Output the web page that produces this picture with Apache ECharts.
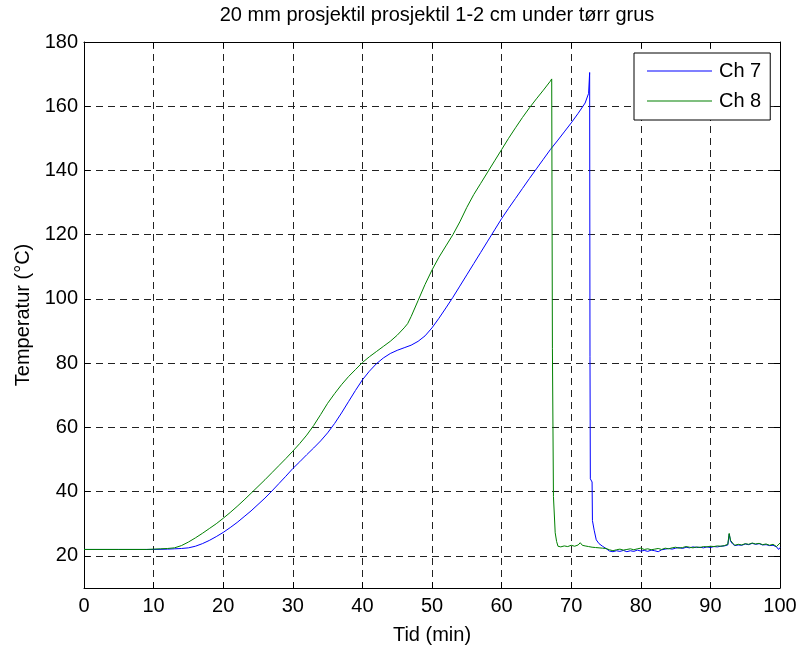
<!DOCTYPE html>
<html>
<head>
<meta charset="utf-8">
<script src="https://cdn.jsdelivr.net/npm/echarts@6/dist/echarts.min.js"></script>
<style>
  html, body { margin: 0; padding: 0; background: #fff; }
  #chart { width: 801px; height: 645px; }
</style>
</head>
<body>
<div id="chart"></div>
<script>
// Temperature logs for the two thermocouple channels (time in minutes, °C)
var ch7Time = [0, 5, 10, 12, 13, 14, 15, 16, 17, 18, 19, 20, 21, 22, 23, 24, 25, 26, 27, 28, 29,
  30, 31, 32, 33, 34, 35, 36, 37, 38, 39, 40, 41, 42, 43, 44, 45, 46, 47, 48, 49,
  50, 51, 52, 53, 54, 55, 56, 57, 58, 59, 60, 61, 62, 63, 64, 65, 66, 67, 68, 69,
  70, 71, 72, 72.5, 72.6, 72.65, 72.7, 72.75, 73.0, 73.05, 73.3, 73.6, 74, 74.5,
  75, 75.5, 76, 76.5, 77, 77.5, 78, 78.5, 79, 79.5, 80, 80.5, 81, 81.5, 82, 82.5,
  83, 83.5, 84, 84.5, 85, 85.5, 86, 86.5, 87, 87.5, 88, 88.5, 89, 89.5, 90, 90.5,
  91, 91.5, 92, 92.5, 92.7, 92.9, 93.2, 93.5, 94, 94.5, 95, 95.5, 96, 96.5, 97,
  97.5, 98, 98.5, 99, 99.5, 99.8, 100];
var ch7Temp = [22, 22, 22, 22.1, 22.2, 22.3, 22.5, 23, 23.8, 24.8, 26, 27.3, 28.8, 30.4, 32.2, 34, 36, 38, 40.2, 42.5, 44.8,
  47.2, 49.3, 51.5, 53.6, 55.8, 58.3, 61.2, 64.5, 68, 71.5, 74.8, 77.5, 79.8, 81.6, 83, 84, 84.8, 85.6, 86.8, 88.5,
  91, 94, 97.2, 100.5, 104, 107.5, 111, 114.5, 118, 121.5, 125, 128.2, 131.3, 134.4, 137.5, 140.5, 143.5, 146.5, 149.2, 152,
  154.8, 157.8, 161, 164, 164.6, 170.5, 82, 44, 43, 31, 28, 25, 23.8, 23,
  22.3, 21.5, 21.3, 21.6, 21.4, 21.7, 21.3, 21.6, 21.4, 21.8, 21.5, 21.7, 21.4, 21.8, 21.6, 21.3,
  21.9, 22.1, 22.3, 22.1, 22.4, 22.6, 22.3, 22.7, 22.5, 22.8, 22.6, 22.7, 22.5, 22.8, 22.6, 22.9,
  22.8, 23.0, 23.1, 23.4, 26.8, 24.5, 23.7, 23.2, 23.4, 23.3, 23.7, 23.5, 23.9, 23.6, 23.8,
  23.4, 23.5, 23.2, 23.3, 22.8, 22.0, 22.6];

var ch8Time = [0, 5, 9, 10, 11, 12, 13, 14, 15, 16, 17, 18, 19, 20, 21, 22, 23, 24, 25, 26, 27, 28, 29,
  30, 31, 32, 33, 34, 35, 36, 37, 38, 39, 40, 41, 42, 43, 44, 45, 46, 46.5, 47, 48, 49,
  50, 51, 52, 53, 54, 55, 56, 57, 58, 59, 60, 61, 62, 63, 64, 65, 66, 67, 67.2,
  67.3, 67.4, 67.45, 67.7, 67.9, 68.1, 68.5, 69, 69.5, 70, 70.5, 71, 71.3, 71.6, 72, 72.5,
  73, 73.5, 74, 74.5, 75, 75.5, 76, 76.5, 77, 77.5, 78, 78.5, 79, 79.5, 80, 80.5, 81, 81.5,
  82, 82.5, 83, 83.5, 84, 84.5, 85, 85.5, 86, 86.5, 87, 87.5, 88, 88.5, 89, 89.5, 90, 90.5,
  91, 91.5, 92, 92.5, 92.7, 92.9, 93.2, 93.5, 94, 94.5, 95, 95.5, 96, 96.5, 97, 97.5, 98,
  98.5, 99, 99.5, 100];
var ch8Temp = [22, 22, 22, 22.1, 22.2, 22.3, 22.5, 23.2, 24.3, 25.6, 27, 28.5, 30, 31.7, 33.5, 35.4, 37.4, 39.5, 41.6, 43.7, 45.9, 48.1, 50.3,
  52.6, 55, 57.6, 60.6, 64, 67.5, 70.5, 73.3, 75.8, 78, 80.2, 82, 83.6, 85.2, 86.8, 88.7, 91, 92.3, 94.5, 99.5, 104.5,
  109, 113, 116.5, 120, 124, 128.5, 132.5, 136, 139.5, 143, 146.5, 150, 153.3, 156.5, 159.5, 162.3, 165, 167.8, 168.5,
  84.5, 84, 38.5, 27.2, 24.5, 23, 22.8, 23.1, 22.9, 23.3, 23.0, 23.4, 24.1, 23.3, 23.1, 22.9,
  22.7, 22.6, 22.5, 22.4, 22.3, 21.9, 21.6, 21.9, 22.1, 21.8, 22.0, 22.2, 21.9, 22.2, 22.4, 22.0, 22.2, 21.9,
  22.1, 22.3, 22.0, 22.4, 22.2, 22.5, 22.7, 22.4, 22.6, 22.9, 22.7, 22.5, 22.8, 22.6, 22.9, 22.8, 23.0, 22.9,
  23.1, 23.0, 23.2, 23.6, 27.0, 24.8, 24.0, 23.3, 23.6, 23.4, 23.8, 23.6, 24.0, 23.7, 23.9, 23.5, 23.7,
  23.3, 23.6, 22.9, 24.0];

var xTicks = [0, 10, 20, 30, 40, 50, 60, 70, 80, 90, 100];
var yTicks = [20, 40, 60, 80, 100, 120, 140, 160, 180];

function pairs(t, v) {
  return t.map(function (x, i) { return [x, v[i]]; });
}

var FONT = 'Liberation Sans, Arial, Helvetica, sans-serif';
var FS = 20;
var gridLine = { show: true, lineStyle: { color: '#222', width: 1, type: [7, 5] } };

var chart = echarts.init(document.getElementById('chart'), null, { renderer: 'canvas' });
chart.setOption({
  animation: false,
  backgroundColor: '#fff',
  textStyle: { fontFamily: FONT },
  title: {
    text: '20 mm prosjektil prosjektil 1-2 cm under tørr grus',
    left: 432, top: 0, textAlign: 'center',
    textStyle: { fontFamily: FONT, fontSize: FS, fontWeight: 'normal', color: '#000', lineHeight: 20 }
  },
  legend: {
    data: ['Ch 7', 'Ch 8'],
    orient: 'vertical',
    left: 634, top: 53,
    padding: [8, 9, 9, 13],
    itemGap: 10,
    itemWidth: 65, itemHeight: 1,
    icon: 'rect',
    backgroundColor: '#fff',
    borderColor: '#000', borderWidth: 1, borderRadius: 0,
    textStyle: { fontFamily: FONT, fontSize: FS, color: '#000', lineHeight: 20, padding: [0, 0, 0, 2] }
  },
  grid: { left: 84, right: 21, top: 42, bottom: 57, show: false, containLabel: false, outerBoundsMode: 'none' },
  xAxis: [{
    type: 'value', min: 0, max: 100, interval: 10,
    name: 'Tid (min)', nameLocation: 'middle', nameGap: 37,
    nameTextStyle: { fontFamily: FONT, fontSize: FS, color: '#000' },
    axisLine: { show: true, onZero: false, lineStyle: { color: '#000', width: 1 } },
    axisTick: { show: true, inside: true, length: 6, lineStyle: { color: '#000' } },
    axisLabel: { fontFamily: FONT, fontSize: FS, color: '#000', margin: 8 },
    splitLine: gridLine
  }, {
    type: 'value', min: 0, max: 100, interval: 10, position: 'top',
    axisLine: { show: true, onZero: false, lineStyle: { color: '#000', width: 1 } },
    axisTick: { show: true, inside: true, length: 6, lineStyle: { color: '#000' } },
    axisLabel: { show: false }, splitLine: { show: false }
  }],
  yAxis: [{
    type: 'value', min: 10, max: 180,
    name: 'Temperatur (°C)', nameLocation: 'middle', nameGap: 46, nameRotate: 90,
    nameTextStyle: { fontFamily: FONT, fontSize: FS, color: '#000' },
    axisLine: { show: true, onZero: false, lineStyle: { color: '#000', width: 1 } },
    axisTick: { show: true, inside: true, length: 6, customValues: yTicks, lineStyle: { color: '#000' } },
    axisLabel: { fontFamily: FONT, fontSize: FS, color: '#000', margin: 6, customValues: yTicks },
    splitLine: gridLine
  }, {
    type: 'value', min: 10, max: 180, position: 'right',
    axisLine: { show: true, onZero: false, lineStyle: { color: '#000', width: 1 } },
    axisTick: { show: true, inside: true, length: 6, customValues: yTicks, lineStyle: { color: '#000' } },
    axisLabel: { show: false }, splitLine: { show: false }
  }],
  series: [{
    name: 'Ch 7', type: 'line', xAxisIndex: 0, yAxisIndex: 0,
    data: pairs(ch7Time, ch7Temp),
    showSymbol: false, symbol: 'none',
    color: '#0000ff',
    lineStyle: { color: '#0000ff', width: 1 }
  }, {
    name: 'Ch 8', type: 'line', xAxisIndex: 0, yAxisIndex: 0,
    data: pairs(ch8Time, ch8Temp),
    showSymbol: false, symbol: 'none',
    color: '#008000',
    lineStyle: { color: '#008000', width: 1 }
  }]
});
</script>
</body>
</html>
